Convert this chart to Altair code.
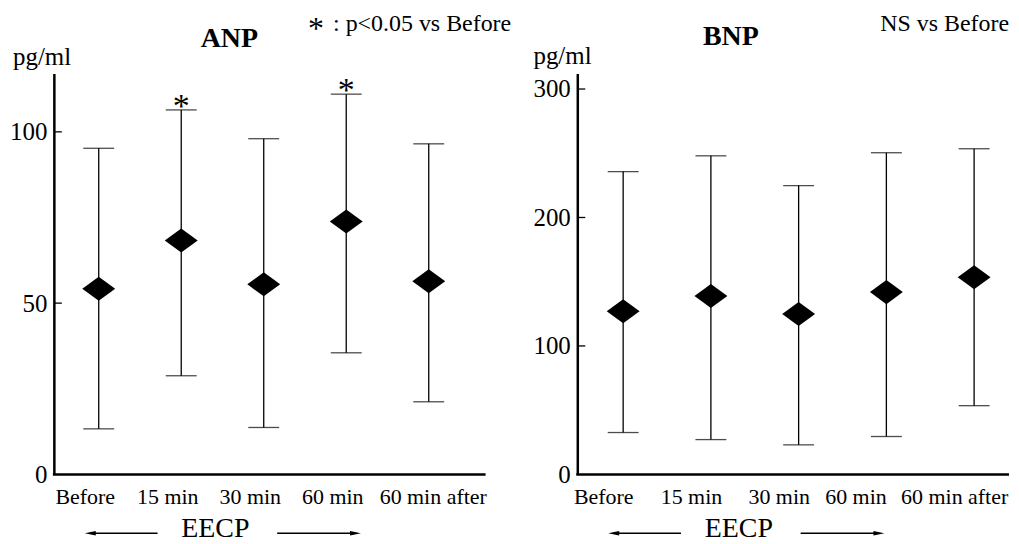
import altair as alt
import pandas as pd

categories = ["Before", "15 min", "30 min", "60 min", "60 min after"]

anp_mean = [54.2, 68.3, 55.5, 73.8, 56.4]
anp_upper = [95.2, 106.4, 98.0, 111.0, 96.5]
anp_lower = [13.3, 28.8, 13.7, 35.5, 21.2]
anp_sig = ["", "*", "", "*", ""]

bnp_mean = [127.0, 138.8, 124.8, 141.9, 153.5]
bnp_upper = [235.7, 248.0, 224.8, 250.4, 253.5]
bnp_lower = [32.6, 27.1, 23.0, 29.5, 53.5]
bnp_sig = ["", "", "", "", ""]

anp_ticks = [50, 100]
bnp_ticks = [100, 200, 300]

FONT = "Liberation Serif"
DIAMOND = "M -1 0 L 0 -0.73 L 1 0 L 0 0.73 Z"
W, H = 433, 402


def text_layer(label, x, y, size, align="left", weight="normal"):
    return alt.Chart(pd.DataFrame({"t": [label]})).mark_text(
        align=align, baseline="alphabetic", fontSize=size, font=FONT,
        fontWeight=weight, color="black"
    ).encode(x=alt.value(x), y=alt.value(y), text="t:N")


def panel(mean, upper, lower, sig, ymax, yvals, tickvals, xrange, title, title_x, title_y,
          pg_x, pg_y, label_offset, extra):
    df = pd.DataFrame({"cat": categories, "mean": mean, "upper": upper,
                       "lower": lower, "sig": sig})
    yscale = alt.Scale(domain=[0, ymax], nice=False, zero=True)
    yaxis = alt.Axis(values=yvals, ticks=False, labelPadding=7, labelFontSize=25,
                     labelFont=FONT, labelColor="black", domainWidth=2.5,
                     domainColor="black", grid=False, title=None,
                     minExtent=46, maxExtent=46, labelBaseline="middle")
    xaxis = alt.Axis(ticks=False, domain=False, labelPadding=12, labelFontSize=22,
                     labelFont=FONT, labelColor="black", grid=False, title=None,
                     labelAngle=0, labelOffset=label_offset, labelBaseline="top")
    xenc = alt.X("cat:N", sort=categories,
                 scale=alt.Scale(type="point", range=xrange, padding=0), axis=xaxis)

    def Y(f):
        return alt.Y(f, scale=yscale, axis=yaxis)

    base = alt.Chart(df)
    bars = base.mark_rule(color="black", strokeWidth=1.3).encode(
        x=xenc, y=Y("lower:Q"), y2="upper:Q")
    cap_hi = base.mark_tick(color="black", thickness=1.3, size=31).encode(
        x=xenc, y=Y("upper:Q"))
    cap_lo = base.mark_tick(color="black", thickness=1.3, size=31).encode(
        x=xenc, y=Y("lower:Q"))
    pts = base.mark_point(shape=DIAMOND, size=1089, filled=True, color="black",
                          opacity=1).encode(x=xenc, y=Y("mean:Q"))
    stars = base.mark_text(fontSize=34, font=FONT, baseline="alphabetic", dy=7,
                           color="black").encode(x=xenc, y=Y("upper:Q"), text="sig:N")
    inticks = alt.Chart(pd.DataFrame({"v": tickvals})).mark_rule(
        color="black", strokeWidth=1.3).encode(
        y=Y("v:Q"), x=alt.value(0), x2=alt.value(8))
    xdomain = alt.Chart(pd.DataFrame({"a": [0]})).mark_rule(
        color="black", strokeWidth=2.5).encode(
        x=alt.value(-1), x2=alt.value(W), y=alt.value(H))

    ay = 461
    arrows = [
        alt.Chart(pd.DataFrame({"a": [0]})).mark_rule(color="black", strokeWidth=1.3).encode(
            x=alt.value(36), x2=alt.value(104), y=alt.value(ay)),
        alt.Chart(pd.DataFrame({"a": [0]})).mark_rule(color="black", strokeWidth=1.3).encode(
            x=alt.value(224), x2=alt.value(302), y=alt.value(ay)),
        alt.Chart(pd.DataFrame({"a": [0]})).mark_point(
            shape="M -1 0 L 1 -0.4 L 1 0.4 Z", size=121, filled=True, color="black",
            opacity=1).encode(x=alt.value(36.5), y=alt.value(ay)),
        alt.Chart(pd.DataFrame({"a": [0]})).mark_point(
            shape="M 1 0 L -1 -0.4 L -1 0.4 Z", size=121, filled=True, color="black",
            opacity=1).encode(x=alt.value(302.5), y=alt.value(ay)),
        text_layer("EECP", 162, 465, 28, align="center"),
    ]
    texts = [
        text_layer(title, title_x, title_y, 28, align="center", weight="bold"),
        text_layer("pg/ml", pg_x, pg_y, 25),
    ]
    return alt.layer(bars, cap_hi, cap_lo, pts, stars, inticks, xdomain,
                     *arrows, *texts, *extra).properties(width=W, height=H)


left = panel(anp_mean, anp_upper, anp_lower, anp_sig, 117, [0, 50, 100], anp_ticks,
             [45, 376], "ANP", 176, -27, -41, -9,
             alt.condition("datum.value == '60 min after'", alt.value(4), alt.value(-14)),
             [text_layer("*", 263, -35, 32, align="center"),
              text_layer(": p<0.05 vs Before", 280, -42.5, 24)])
right = panel(bnp_mean, bnp_upper, bnp_lower, bnp_sig, 312, [0, 100, 200, 300], bnp_ticks,
              [46, 398], "BNP", 154, -29, -44, -10,
              alt.condition("datum.value == '60 min'", alt.value(-31), alt.value(-20)),
              [text_layer("NS vs Before", 433, -42.5, 24, align="right")])

chart = alt.hconcat(left, right, spacing=92, bounds="flush").properties(
    padding={"top": 3, "left": 0, "right": 0, "bottom": 0}
).configure(font=FONT).configure_view(stroke=None, strokeWidth=0)

chart.save("out.html", embed_options={"renderer": "svg", "actions": False})
